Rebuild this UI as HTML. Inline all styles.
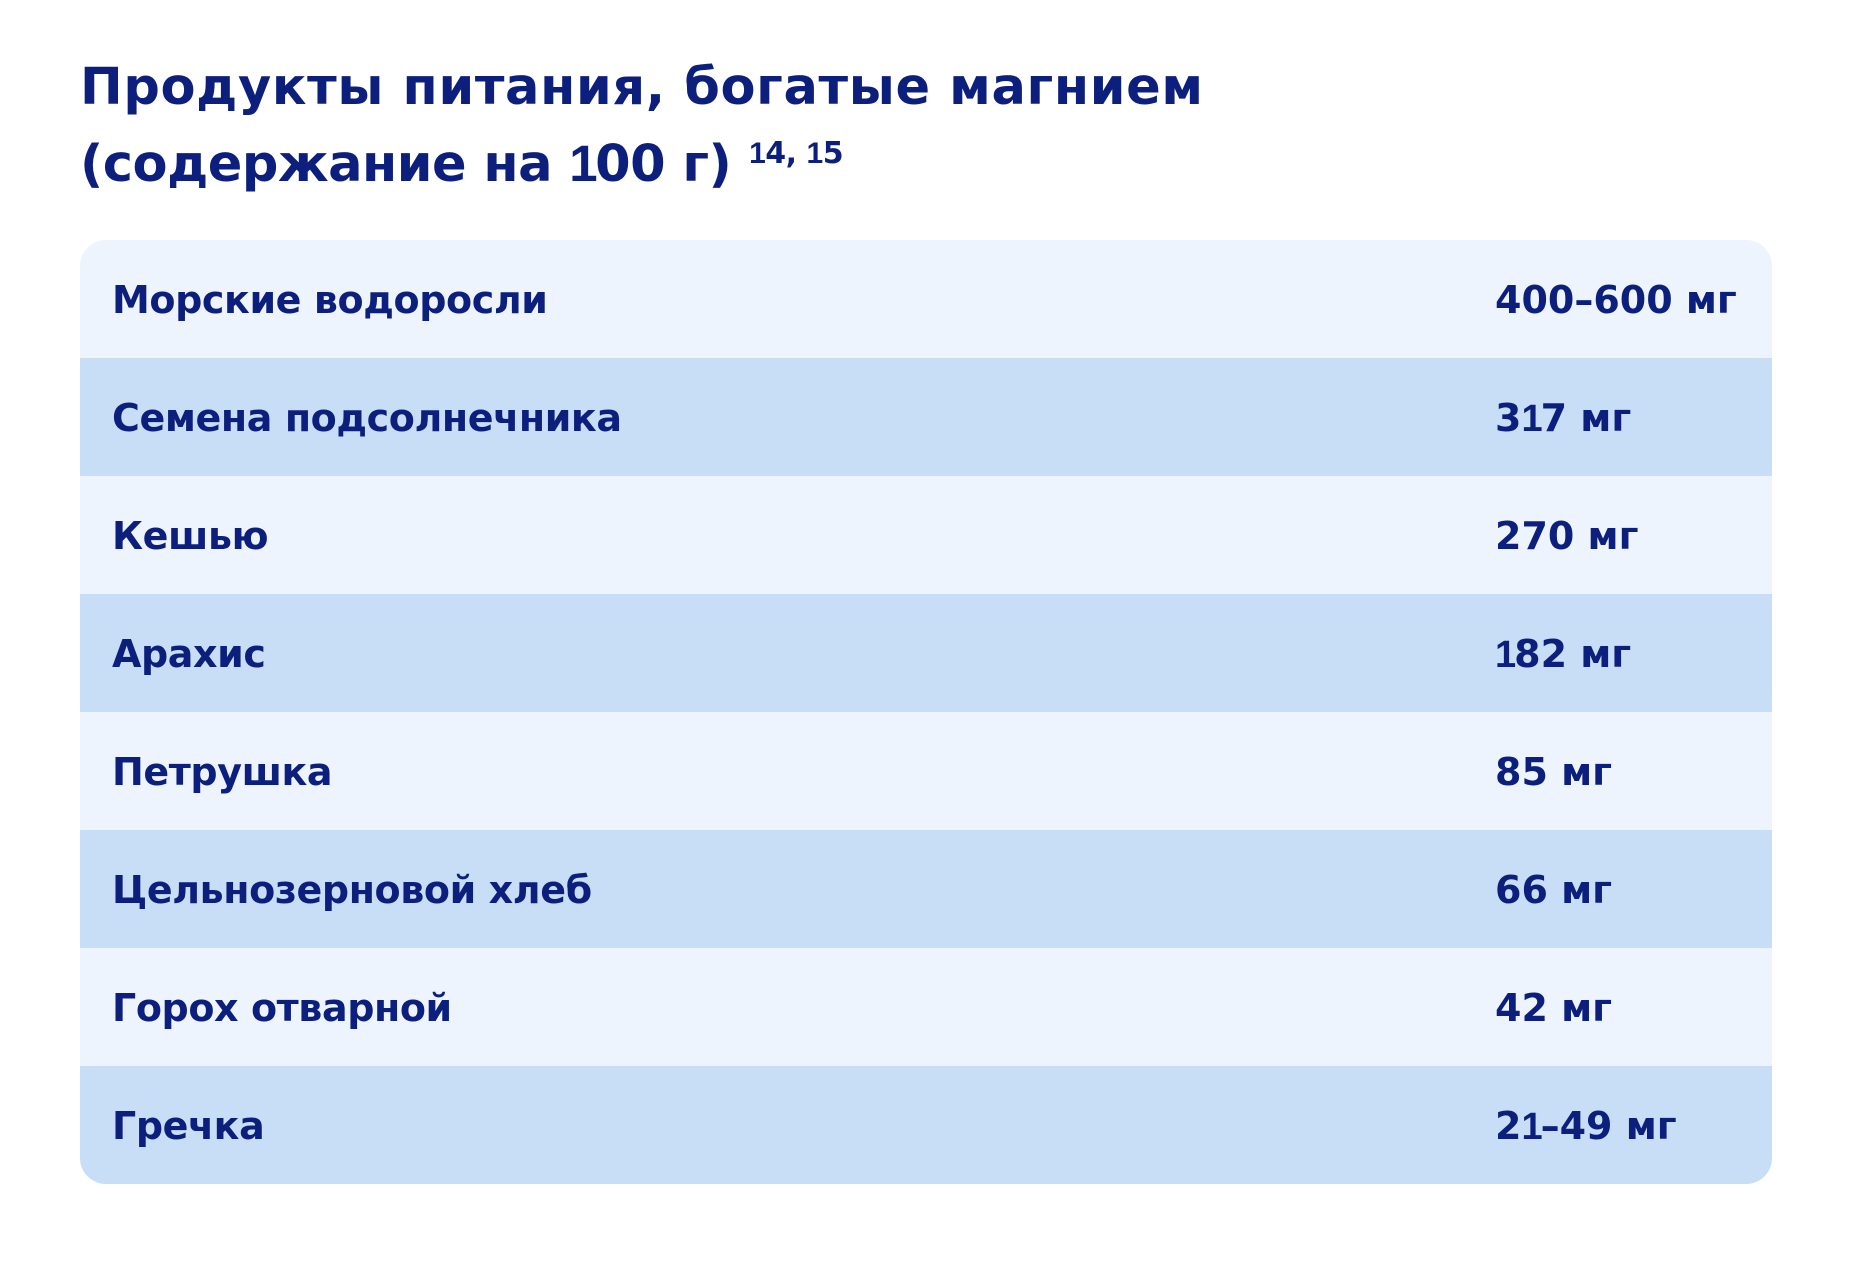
<!DOCTYPE html>
<html lang="ru">
<head>
<meta charset="utf-8">
<style>
  html, body { margin:0; padding:0; }
  body {
    width:1852px; height:1264px; background:#ffffff; position:relative; overflow:hidden;
    font-family: "DejaVu Sans", "Liberation Sans", "Noto Sans CJK SC", sans-serif;
    font-weight:bold; color:#0c1f7c;
  }
  .title {
    position:absolute; left:80px; top:50px;
    font-size:51px; line-height:76px; white-space:nowrap;
  }
  .t1 { letter-spacing:0.65px; }
  .t2 { letter-spacing:-0.5px; }
  .title sup {
    font-size:30px; vertical-align:18px; line-height:0; letter-spacing:-0.5px;
  }
  .one { font-family:"Liberation Sans", sans-serif; }
  .n1 { margin:0 -2px 0 0; }
  .v1 { margin:0 -2px 0 0; }
  .table {
    position:absolute; left:80px; top:240px; width:1692px; height:944px;
    border-radius:26px; overflow:hidden; background:#eef4fd;
  }
  .row {
    position:relative; height:118px; font-size:38px; line-height:118px;
    box-sizing:border-box; padding-top:1px; white-space:nowrap;
  }
  .row.l { background:#eef4fd; }
  .row.d { background:#c8def6; }
  .row .k { position:absolute; left:32px; top:1px; letter-spacing:-0.4px; }
  .row .v { position:absolute; left:1415px; top:1px; }
</style>
</head>
<body>
  <div class="title"><span class="t1">Продукты питания, богатые магнием</span><br><span class="t2">(содержание на <span class="one n1">1</span>00 г)</span> <sup><span class="one">1</span>4, <span class="one">1</span>5</sup></div>
  <div class="table">
    <div class="row l"><span class="k">Морские водоросли</span><span class="v">400–600 мг</span></div>
    <div class="row d"><span class="k">Семена подсолнечника</span><span class="v">3<span class="one v1">1</span>7 мг</span></div>
    <div class="row l"><span class="k">Кешью</span><span class="v">270 мг</span></div>
    <div class="row d"><span class="k">Арахис</span><span class="v"><span class="one v1">1</span>82 мг</span></div>
    <div class="row l"><span class="k">Петрушка</span><span class="v">85 мг</span></div>
    <div class="row d"><span class="k">Цельнозерновой хлеб</span><span class="v">66 мг</span></div>
    <div class="row l"><span class="k">Горох отварной</span><span class="v">42 мг</span></div>
    <div class="row d"><span class="k">Гречка</span><span class="v">2<span class="one v1">1</span>–49 мг</span></div>
  </div>
</body>
</html>
